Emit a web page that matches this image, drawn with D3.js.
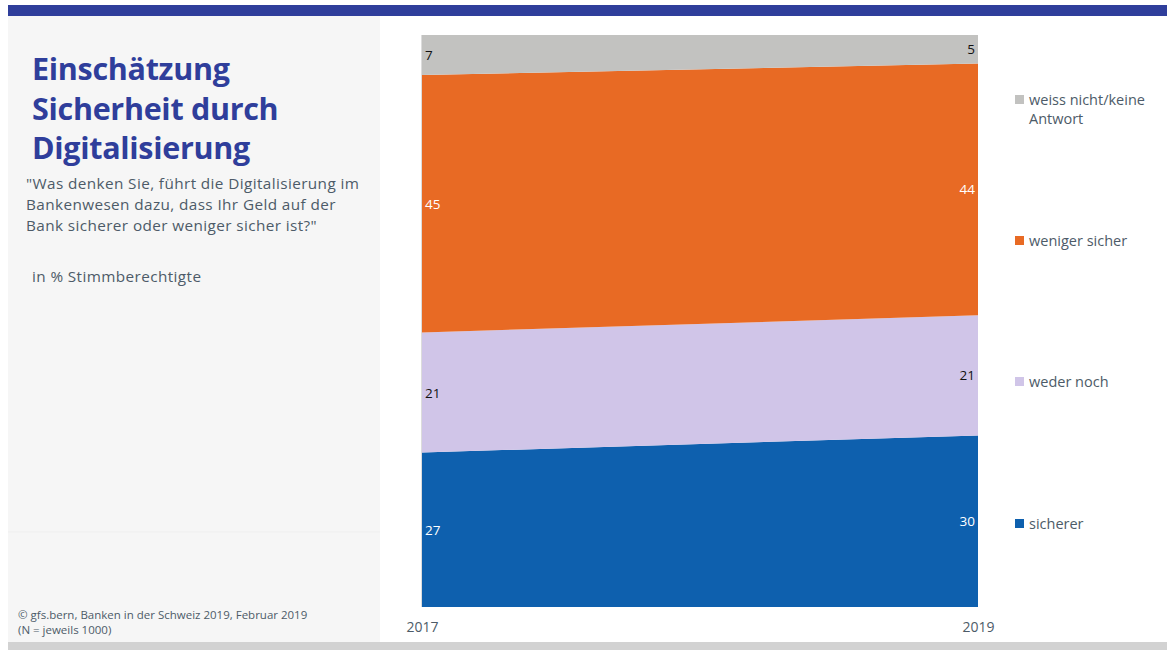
<!DOCTYPE html>
<html>
<head>
<meta charset="utf-8">
<script src="https://cdn.jsdelivr.net/npm/d3@7"></script>
<style>
  html, body { margin: 0; padding: 0; background: #fff; }
  svg { display: block; font-family: "Open Sans", "Noto Sans", sans-serif; }
</style>
</head>
<body>
<svg id="chart" width="1167" height="650"></svg>
<script>
// Survey years and answer shares (in %)
const years = ["2017", "2019"];
const categories = ["sicherer", "weder noch", "weniger sicher", "weiss nicht/keine Antwort"];
const sicherer = [27, 30];
const wederNoch = [21, 21];
const wenigerSicher = [45, 44];
const weissNicht = [7, 5];
const colors = ["#0e60ae", "#d0c5e8", "#e86a24", "#c2c2c0"];
const labelColors = ["#ffffff", "#111111", "#ffffff", "#111111"];

const seriesValues = [sicherer, wederNoch, wenigerSicher, weissNicht];
const rows = years.map((y, i) => {
  const r = { year: y };
  categories.forEach((c, k) => { r[c] = seriesValues[k][i]; });
  return r;
});

const svg = d3.select("#chart");
const textCol = "#4d5b68";

// Frame: top band, side panel, bottom band
svg.append("rect").attr("x", 8).attr("y", 5).attr("width", 1159).attr("height", 11).attr("fill", "#2f3e9b");
svg.append("rect").attr("x", 8).attr("y", 16).attr("width", 372).attr("height", 626).attr("fill", "#f6f6f6");
svg.append("line").attr("x1", 8).attr("x2", 380).attr("y1", 532).attr("y2", 532).attr("stroke", "#efefef");
svg.append("rect").attr("x", 8).attr("y", 642).attr("width", 1159).attr("height", 8).attr("fill", "#d2d2d2");

// Title and question
const title = ["Einschätzung", "Sicherheit durch", "Digitalisierung"];
svg.append("g").selectAll("text").data(title).join("text")
  .attr("x", 32).attr("y", (d, i) => 80 + i * 39.5)
  .attr("fill", "#2f3e9b").attr("font-size", 30.5).attr("font-weight", 700)
  .attr("letter-spacing", -0.3)
  .text(d => d);

const question = ["\"Was denken Sie, führt die Digitalisierung im",
                  "Bankenwesen dazu, dass Ihr Geld auf der",
                  "Bank sicherer oder weniger sicher ist?\""];
svg.append("g").selectAll("text").data(question).join("text")
  .attr("x", 26).attr("y", (d, i) => 189 + i * 21)
  .attr("fill", textCol).attr("font-size", 15.3).attr("letter-spacing", 0.4)
  .text(d => d);

svg.append("text").attr("x", 32).attr("y", 282).attr("fill", textCol)
  .attr("font-size", 15.3).attr("letter-spacing", 0.4).text("in % Stimmberechtigte");

svg.append("text").attr("x", 18).attr("y", 619).attr("fill", textCol)
  .attr("font-size", 11.5).text("© gfs.bern, Banken in der Schweiz 2019, Februar 2019");
svg.append("text").attr("x", 18).attr("y", 634).attr("fill", textCol)
  .attr("font-size", 11.5).text("(N = jeweils 1000)");

// Stacked area
const x = d3.scalePoint().domain(years).range([422, 978]);
const y = d3.scaleLinear().domain([0, 100]).range([607, 35]);

const stack = d3.stack().keys(categories);
const layers = stack(rows);

const area = d3.area()
  .x(d => x(d.data.year))
  .y0(d => y(d[0]))
  .y1(d => y(d[1]));

svg.append("g").selectAll("path").data(layers).join("path")
  .attr("d", area)
  .attr("fill", (d, i) => colors[i]);

svg.append("line").attr("x1", 421.5).attr("x2", 421.5).attr("y1", 35).attr("y2", 607)
  .attr("stroke", "#dcdcdc");

// Value labels at both ends
layers.forEach((layer, k) => {
  layer.forEach((d, i) => {
    const left = i === 0;
    svg.append("text")
      .attr("x", left ? x(d.data.year) + 3 : x(d.data.year) - 3)
      .attr("y", (y(d[0]) + y(d[1])) / 2 + 5)
      .attr("text-anchor", left ? "start" : "end")
      .attr("fill", labelColors[k])
      .attr("font-size", 13.5)
      .text(d.data[layer.key]);
  });
});

// X axis labels
const xAxis = d3.axisBottom(x).tickSize(0).tickPadding(0);
const gx = svg.append("g").attr("transform", "translate(0,622)").call(xAxis);
gx.select(".domain").remove();
gx.selectAll("text").attr("fill", textCol).attr("font-size", 14)
  .attr("font-family", "\"Open Sans\", \"Noto Sans\", sans-serif");

// Legend, listed top to bottom in the same order as the stack
const legendY = [529, 387, 246, 105];
const legend = svg.append("g").selectAll("g").data(categories).join("g")
  .attr("transform", (d, i) => `translate(1015,${legendY[i]})`);
legend.append("rect").attr("x", 0).attr("y", -10).attr("width", 9).attr("height", 9)
  .attr("fill", (d, i) => colors[i]);
legend.each(function(d) {
  const parts = d === "weiss nicht/keine Antwort" ? ["weiss nicht/keine", "Antwort"] : [d];
  d3.select(this).selectAll("text").data(parts).join("text")
    .attr("x", 14).attr("y", (p, j) => j * 18.5)
    .attr("fill", textCol).attr("font-size", 14.5)
    .text(p => p);
});
</script>
</body>
</html>
